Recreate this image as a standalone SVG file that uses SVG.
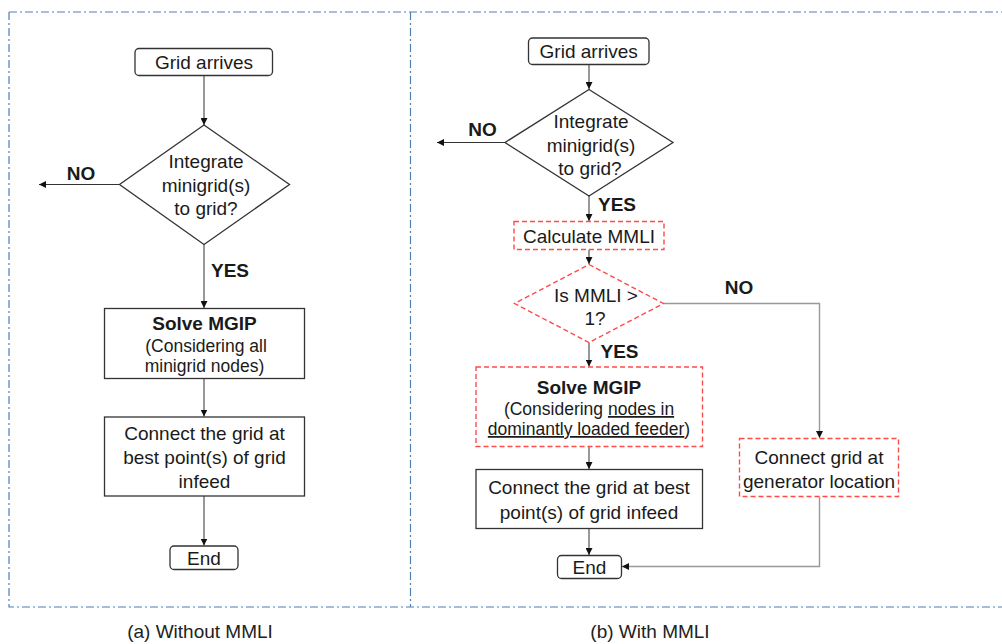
<svg xmlns="http://www.w3.org/2000/svg" width="1002" height="644" viewBox="0 0 1002 644">
<style>
text{font-family:"Liberation Sans",Arial,sans-serif;font-size:19px;fill:#1a1a1a;text-anchor:middle}
.b{font-weight:bold}
.s{font-size:17.5px}
.cap{font-size:19px;fill:#222}
.frame{fill:none;stroke:#4f7fb3;stroke-width:1.2;stroke-dasharray:8 3 2 3}
.box{fill:#fff;stroke:#333;stroke-width:1.3}
.red{fill:#fff;stroke:#ff4a4a;stroke-width:1.4;stroke-dasharray:5 3}
.ln{fill:none;stroke:#333;stroke-width:1}
.gl{fill:none;stroke:#999;stroke-width:1.4}
</style>
<defs>
<marker id="ah" viewBox="0 0 10 10" refX="10" refY="5" markerWidth="7" markerHeight="7" markerUnits="userSpaceOnUse" orient="auto"><path d="M0,0 L10,5 L0,10 z" fill="#111"/></marker>
</defs>
<g id="frames">
<path class="frame" d="M9,12 H1002 M9,12 V607 H1002 M410.5,12 V607"/>
</g>
<g id="connectors">
<path class="ln" d="M204,75.5 V125" marker-end="url(#ah)"/>
<path class="ln" d="M119.5,184.5 H39" marker-end="url(#ah)"/>
<path class="ln" d="M204,244.5 V308" marker-end="url(#ah)"/>
<path class="ln" d="M204,378.5 V416.5" marker-end="url(#ah)"/>
<path class="ln" d="M204,496 V545.5" marker-end="url(#ah)"/>
<path class="ln" d="M589,64.5 V89" marker-end="url(#ah)"/>
<path class="ln" d="M505,142.5 H437" marker-end="url(#ah)"/>
<path class="ln" d="M589,196 V221" marker-end="url(#ah)"/>
<path class="ln" d="M589,249.5 V264" marker-end="url(#ah)"/>
<path class="ln" d="M589,342.5 V366.5" marker-end="url(#ah)"/>
<path class="ln" d="M589,446.5 V469" marker-end="url(#ah)"/>
<path class="ln" d="M589,528.5 V555" marker-end="url(#ah)"/>
<path class="gl" d="M663.5,303.5 H819.5 V438" marker-end="url(#ah)"/>
<path class="gl" d="M819.5,496.5 V566.5 H622" marker-end="url(#ah)"/>
<text class="b" x="81" y="180">NO</text>
<text class="b" x="230" y="277">YES</text>
<text class="b" x="482.5" y="136">NO</text>
<text class="b" x="617" y="211">YES</text>
<text class="b" x="739" y="294">NO</text>
<text class="b" x="619.5" y="358">YES</text>
</g>
<g id="a_start">
<rect class="box" x="135" y="48.5" width="137.5" height="27" rx="4"/>
<text x="204" y="69">Grid arrives</text>
</g>
<g id="a_decision">
<polygon class="box" points="204,125 289.5,184.5 204,244.5 119.5,184.5"/>
<text x="206" y="167.5">Integrate</text>
<text x="206" y="191.5">minigrid(s)</text>
<text x="206" y="215">to grid?</text>
</g>
<g id="a_solve">
<rect class="box" x="104.5" y="308.5" width="200" height="70"/>
<text class="b" x="204.5" y="330">Solve MGIP</text>
<text class="s" x="206" y="351.5">(Considering all</text>
<text class="s" x="204.5" y="371.5">minigrid nodes)</text>
</g>
<g id="a_connect">
<rect class="box" x="104.5" y="417" width="200" height="79"/>
<text x="204.5" y="440">Connect the grid at</text>
<text x="204.5" y="464">best point(s) of grid</text>
<text x="204.5" y="487.5">infeed</text>
</g>
<g id="a_end">
<rect class="box" x="170" y="546" width="68" height="23.5" rx="4"/>
<text x="204" y="565">End</text>
</g>
<g id="b_start">
<rect class="box" x="528.5" y="38" width="120.5" height="26.5" rx="4"/>
<text x="588.7" y="58">Grid arrives</text>
</g>
<g id="b_decision">
<polygon class="box" points="589,89.5 673,142.5 589,196 505,142.5"/>
<text x="591" y="127.5">Integrate</text>
<text x="591" y="151.5">minigrid(s)</text>
<text x="590" y="175">to grid?</text>
</g>
<g id="b_calc">
<rect class="red" x="514" y="221.5" width="150" height="28"/>
<text x="589" y="242.5">Calculate MMLI</text>
</g>
<g id="b_mmli">
<polygon class="red" points="589,264.5 663.5,303.5 589,342.5 514.5,303.5"/>
<text x="596" y="301.5">Is MMLI &gt;</text>
<text x="595" y="325">1?</text>
</g>
<g id="b_solve">
<rect class="red" x="476" y="367" width="226.5" height="79.5"/>
<text class="b" x="589" y="393.5">Solve MGIP</text>
<text class="s" x="589" y="415">(Considering <tspan text-decoration="underline">nodes in</tspan></text>
<text class="s" x="589" y="435"><tspan text-decoration="underline">dominantly loaded feeder</tspan>)</text>
</g>
<g id="b_connect">
<rect class="box" x="476" y="469.5" width="226.5" height="59"/>
<text x="589" y="494">Connect the grid at best</text>
<text x="589" y="518.5">point(s) of grid infeed</text>
</g>
<g id="b_gen">
<rect class="red" x="739.5" y="438.5" width="159" height="58"/>
<text x="819" y="463.5">Connect grid at</text>
<text x="819" y="487.5">generator location</text>
</g>
<g id="b_end">
<rect class="box" x="557.5" y="555.5" width="64" height="23" rx="4"/>
<text x="589.5" y="574">End</text>
</g>
<g id="captions">
<text class="cap" x="200" y="638">(a) Without MMLI</text>
<text class="cap" x="650" y="638">(b) With MMLI</text>
</g>
</svg>
